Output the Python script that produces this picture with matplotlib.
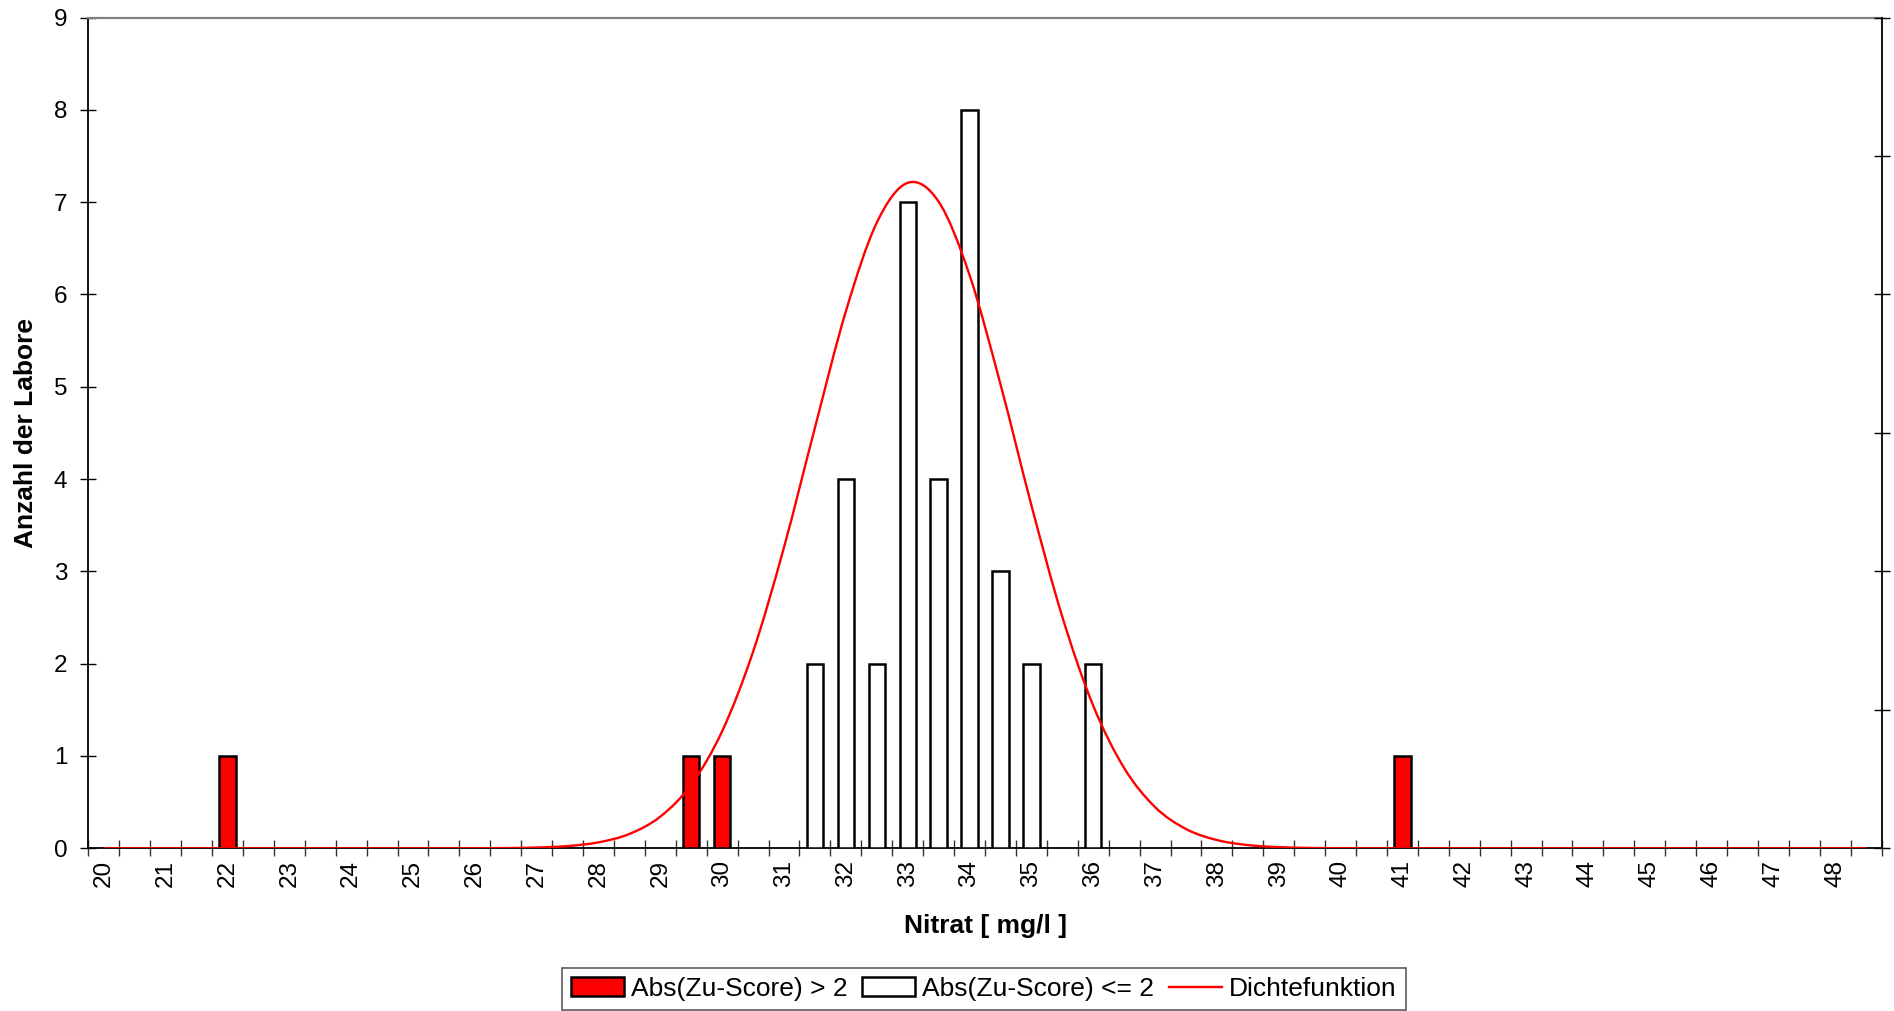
import numpy as np
import matplotlib
matplotlib.use("Agg")
import matplotlib.pyplot as plt
from matplotlib.path import Path
from matplotlib.patches import PathPatch, Patch
from matplotlib.lines import Line2D

plt.rcParams['font.family'] = ['Liberation Sans', 'DejaVu Sans']

# categories on the x axis (class mid points, step 0.5)
categories = np.arange(20, 49, 0.5)

# labs with |z| > 2
red_x = [22, 29.5, 30, 41]
red_n = [1, 1, 1, 1]

# labs with |z| <= 2
white_x = [31.5, 32, 32.5, 33, 33.5, 34, 34.5, 35, 36]
white_n = [2, 4, 2, 7, 4, 8, 3, 2, 2]

# density curve, read at every category (secondary axis 0..0.3)
dens_y = [0, 0, 0, 0, 0, 0, 0, 0, 0, 0,
          0, 0, 0.00002, 0.00009, 0.00028, 0.00081, 0.00215, 0.00519, 0.01145, 0.02303,
          0.0423, 0.0710, 0.1087, 0.1519, 0.1939, 0.2259, 0.2403, 0.2335, 0.2070, 0.1676,
          0.1239, 0.0836, 0.0515, 0.0290, 0.01488, 0.00697, 0.00298, 0.00117, 0.00042, 0.00013,
          0.00004, 0, 0, 0, 0, 0, 0, 0, 0, 0,
          0, 0, 0, 0, 0, 0, 0, 0]

fig = plt.figure(figsize=(18.94, 10.11), dpi=100)
ax = fig.add_axes([0.04662, 0.16093, 0.94689, 0.82176])

bar_w = 0.265
ax.bar(white_x, white_n, bar_w, color='white', edgecolor='black', linewidth=1.8, zorder=3)
ax.bar(red_x, red_n, bar_w, color='#FF0000', edgecolor='black', linewidth=1.8, zorder=3)

ax.set_xlim(19.75, 48.75)
ax.set_ylim(0, 9)
ax.set_yticks(range(0, 10))

# tick marks between categories, labels at whole numbers
ax.set_xticks(np.arange(19.75, 48.8, 0.5))
ax.set_xticklabels([])
ax.set_xticks(categories[::2], minor=True)
ax.set_xticklabels([str(int(c)) for c in categories[::2]], minor=True, rotation=90)
ax.tick_params(axis='x', which='major', direction='inout', length=12, width=1, color='#333333')
ax.tick_params(axis='x', which='minor', length=0, pad=8.5, labelsize=17.5)
ax.tick_params(axis='y', direction='inout', length=12, width=1, pad=9, labelsize=17.5)

for s in ['left', 'bottom']:
    ax.spines[s].set_linewidth(1.3)
    ax.spines[s].set_color('black')
ax.spines['top'].set_color('#808080')
ax.spines['top'].set_linewidth(1.6)
ax.spines['right'].set_visible(False)

ax.set_xlabel('Nitrat [ mg/l ]', fontsize=19, fontweight='bold')
ax.xaxis.set_label_coords(0.5, -0.093)
ax.xaxis.label.set_va('center')
ax.set_ylabel('Anzahl der Labore', fontsize=19, fontweight='bold')
ax.yaxis.set_label_coords(-0.0345, 0.5)
ax.yaxis.label.set_va('center')

# secondary axis for the density curve
ax2 = ax.twinx()
ax2.set_ylim(0, 0.3)
ax2.set_yticks(np.arange(0, 0.31, 0.05))
ax2.tick_params(axis='y', direction='inout', length=12, width=1, labelright=False)
ax2.spines['right'].set_linewidth(1.3)
ax2.spines['left'].set_visible(False)
ax2.spines['bottom'].set_visible(False)
ax2.spines['top'].set_visible(False)

# smoothed line (Catmull-Rom -> bezier), like a spreadsheet "smoothed line"
px = list(categories)
py = list(dens_y)
verts = [(px[0], py[0])]
codes = [Path.MOVETO]
n = len(px)
for i in range(n - 1):
    x0, y0 = (px[i - 1], py[i - 1]) if i > 0 else (px[i], py[i])
    x1, y1 = px[i], py[i]
    x2, y2 = px[i + 1], py[i + 1]
    x3, y3 = (px[i + 2], py[i + 2]) if i + 2 < n else (px[i + 1], py[i + 1])
    verts += [(x1 + (x2 - x0) / 6, y1 + (y2 - y0) / 6),
              (x2 - (x3 - x1) / 6, y2 - (y3 - y1) / 6),
              (x2, y2)]
    codes += [Path.CURVE4] * 3
ax2.add_patch(PathPatch(Path(verts, codes), fill=False, edgecolor='#FF0000',
                        linewidth=1.7, zorder=4))

handles = [Patch(facecolor='#FF0000', edgecolor='black', linewidth=1.8),
           Patch(facecolor='white', edgecolor='black', linewidth=1.8),
           Line2D([], [], color='#FF0000', linewidth=1.7)]
labels = ['Abs(Zu-Score) > 2', 'Abs(Zu-Score) <= 2', 'Dichtefunktion']
leg = fig.legend(handles, labels, loc='center', bbox_to_anchor=(0.5195, 0.0218), ncol=3,
                 frameon=True, fancybox=False, edgecolor='#333333', fontsize=19,
                 handlelength=2.0, handleheight=0.7, columnspacing=0.55,
                 handletextpad=0.27, borderpad=0.35, borderaxespad=0)
leg.get_frame().set_linewidth(1.2)

fig.savefig('out.png', dpi=100)
